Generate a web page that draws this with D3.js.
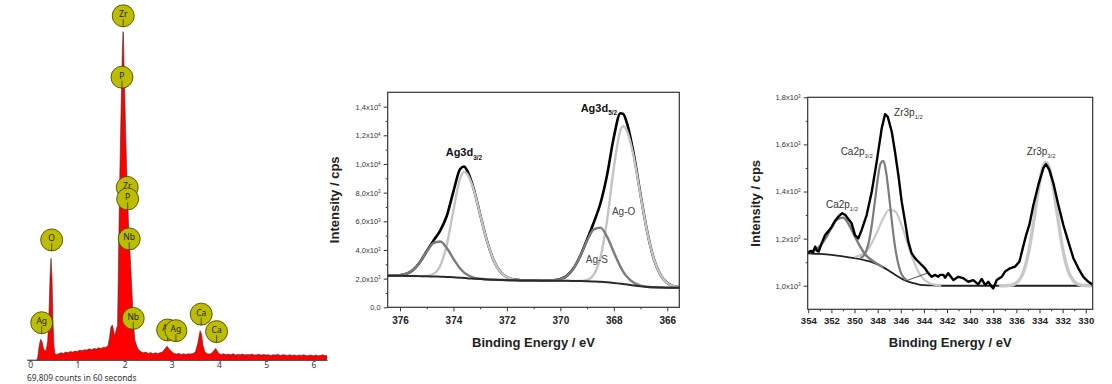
<!DOCTYPE html>
<html>
<head>
<meta charset="utf-8">
<script src="https://cdn.jsdelivr.net/npm/d3@7"></script>
<style>
  body { margin: 0; background: #fff; }
  svg { display: block; }
</style>
</head>
<body>
<svg id="chart" width="1112" height="384"></svg>
<script>
// ---------- EDS spectrum (left) ----------
const edsKeV = [-0.07, 0.14, 0.16, 0.19, 0.22, 0.25, 0.28, 0.31, 0.34, 0.37, 0.40, 0.42, 0.44, 0.46, 0.48, 0.50, 0.52, 0.55,
  0.60, 0.65, 0.70, 0.75, 0.80, 0.85, 0.90, 0.95, 1.00, 1.05, 1.10, 1.15, 1.20, 1.25, 1.30, 1.35, 1.40, 1.45, 1.50, 1.55, 1.60, 1.65,
  1.68, 1.71, 1.74, 1.76, 1.79, 1.81, 1.83, 1.85, 1.87, 1.89, 1.91, 1.93, 1.95, 1.965, 1.975, 1.99, 2.01, 2.02, 2.04, 2.06, 2.08,
  2.10, 2.13, 2.16, 2.19, 2.22, 2.26, 2.30, 2.35, 2.40, 2.45, 2.50, 2.55, 2.60, 2.65, 2.70, 2.75, 2.80, 2.85, 2.90, 2.95, 3.00,
  3.05, 3.10, 3.15, 3.20, 3.25, 3.30, 3.35, 3.40, 3.45, 3.50, 3.55, 3.60, 3.63, 3.66, 3.70, 3.75, 3.80, 3.85, 3.90, 3.93, 3.96,
  4.00, 4.05, 4.10, 4.15, 4.20, 4.25, 4.30, 4.35, 4.40, 4.45, 4.50, 4.55, 4.60, 4.65, 4.70, 4.75, 4.80, 4.85, 4.90, 4.95, 5.00,
  5.05, 5.10, 5.15, 5.20, 5.25, 5.30, 5.35, 5.40, 5.45, 5.50, 5.55, 5.60, 5.65, 5.70, 5.75, 5.80, 5.85, 5.90, 5.95, 6.00, 6.05,
  6.10, 6.15, 6.20, 6.25, 6.29];
const edsCounts = [0, 0, 10, 45, 63, 55, 35, 28, 32, 60, 160, 260, 308, 250, 120, 45, 20, 17,
  19, 22, 20, 24, 22, 26, 24, 27, 26, 30, 28, 31, 30, 34, 31, 35, 33, 37, 35, 39, 38, 44,
  70, 100, 106, 95, 72, 85, 96, 105, 300, 500, 650, 800, 930, 995, 990, 870, 760, 690, 590, 500, 420,
  360, 280, 190, 100, 60, 40, 30, 25, 22, 24, 20, 23, 19, 22, 20, 22, 24, 33, 42, 32, 25,
  20, 18, 20, 17, 19, 17, 19, 18, 20, 24, 50, 89, 78, 45, 25, 19, 18, 21, 30, 35, 28,
  19, 17, 19, 16, 18, 16, 19, 15, 17, 16, 18, 15, 17, 16, 18, 15, 16, 17, 15, 17, 15,
  16, 14, 16, 15, 17, 14, 16, 15, 14, 16, 14, 15, 13, 15, 14, 16, 13, 14, 15, 13, 15,
  13, 14, 16, 13, 14];
const edsTicks = [0, 1, 2, 3, 4, 5, 6];
const markerLabels = ['Zr', 'P', 'Zr', 'P', 'Nb', 'O', 'Ag', 'Nb', 'Ag', 'Ag', 'Ca', 'Ca'];
const markerKeV = [1.97, 1.943, 2.055, 2.064, 2.097, 0.453, 0.242, 2.182, 2.911, 3.087, 3.623, 3.949];
const markerCounts = [1043, 857, 523, 488, 367, 364, 113, 126, 91, 89, 139, 86];

// ---------- XPS Ag3d (middle) ----------
const agBE = [376.5, 376.25, 376, 375.75, 375.5, 375.25, 375, 374.75, 374.5, 374.25, 374, 373.75, 373.6, 373.5, 373.25, 373,
  372.75, 372.5, 372.25, 372, 371.75, 371.5, 371.25, 371, 370.75, 370.5, 370.25, 370, 369.75, 369.5, 369.25, 369,
  368.75, 368.5, 368.25, 368, 367.75, 367.65, 367.5, 367.25, 367, 366.75, 366.5, 366.25, 366, 365.75, 365.5];
const agBackground = [2200, 2200, 2195, 2190, 2185, 2175, 2165, 2150, 2135, 2115, 2090, 2060, 2045, 2030, 2000, 1970,
  1945, 1925, 1910, 1895, 1885, 1875, 1870, 1865, 1860, 1855, 1852, 1850, 1845, 1840, 1830, 1815,
  1800, 1780, 1745, 1700, 1650, 1630, 1590, 1520, 1460, 1420, 1395, 1380, 1372, 1368, 1365];
const agAgO = [2200, 2200, 2195, 2190, 2185, 2178, 2194, 2324, 2880, 4349, 6795, 9002, 9445, 9327, 8243, 6458,
  4658, 3303, 2500, 2106, 1949, 1891, 1873, 1865, 1860, 1855, 1852, 1850, 1845, 1842, 1845, 1914,
  2283, 3482, 6086, 9719, 12370, 12630, 12272, 10453, 7809, 5254, 3362, 2240, 1691, 1468, 1392];
const agAgS = [2201, 2209, 2237, 2343, 2625, 3159, 3878, 4474, 4591, 4136, 3385, 2707, 2423, 2281, 2076, 1988,
  1948, 1925, 1910, 1895, 1885, 1875, 1870, 1865, 1860, 1862, 1884, 1970, 2210, 2735, 3599, 4638,
  5435, 5558, 4914, 3845, 2823, 2497, 2107, 1705, 1513, 1432, 1397, 1380, 1372, 1368, 1365];
const agEnvelope = [2201, 2209, 2237, 2343, 2625, 3162, 3907, 4648, 5336, 6370, 8090, 9649, 9823, 9578, 8319, 6476,
  4661, 3303, 2500, 2106, 1949, 1891, 1873, 1865, 1860, 1862, 1884, 1970, 2210, 2737, 3614, 4737,
  5918, 7260, 9255, 11864, 13543, 13497, 12789, 10638, 7862, 5266, 3364, 2240, 1691, 1468, 1392];
const agXTicks = [376, 374, 372, 370, 368, 366];
const agXMinor = [375, 373, 371, 369, 367];
const agYTicks = [0, 2000, 4000, 6000, 8000, 10000, 12000, 14000];
const agYMinor = [1000, 3000, 5000, 7000, 9000, 11000, 13000];
const agYMant = ['0,0', '2,0x10', '4,0x10', '6,0x10', '8,0x10', '1,0x10', '1,2x10', '1,4x10'];
const agYExp = ['', '3', '3', '3', '3', '4', '4', '4'];
const agNoteText = ['Ag3d', 'Ag3d', 'Ag-O', 'Ag-S'];
const agNoteSub = ['3/2', '5/2', '', ''];
const agNoteBE = [374.29, 369.24, 368.07, 369.05];
const agNoteI = [10536, 13621, 6428, 3064];

// ---------- XPS Zr3p / Ca2p (right) ----------
const zrDataBE = [354.05, 353.8, 353.6, 353.4, 353.25, 353.1, 352.85, 352.55, 352.25, 351.97, 351.7, 351.4, 351.06, 350.8,
  350.54, 350.25, 349.96, 349.67, 349.38, 348.95, 348.51, 348.08, 347.65, 347.36, 347.13, 346.78, 346.5, 346.21, 345.92,
  345.63, 345.35, 345.06, 344.77, 344.48, 344.19, 343.9, 343.62, 343.32, 343.04, 342.75, 342.6, 342.32, 342.17, 341.9,
  341.45, 341.02, 340.59, 340.16, 339.73, 339.3, 339.0, 338.71, 338.43, 338.14, 338.0, 337.7, 337.27, 336.98, 336.55,
  336.12, 335.74, 335.45, 335.16, 334.88, 334.53, 334.1, 333.67, 333.44, 333.15, 332.8, 332.37, 331.94, 331.51, 331.07,
  330.64, 330.21, 329.78, 329.45];
const zrDataI = [1140, 1148, 1142, 1166, 1150, 1145, 1180, 1215, 1232, 1251, 1275, 1293, 1308, 1300,
  1283, 1265, 1215, 1201, 1237, 1300, 1399, 1527, 1668, 1728, 1718, 1654, 1569, 1470, 1357,
  1272, 1187, 1138, 1117, 1102, 1088, 1074, 1053, 1038, 1046, 1038, 1046, 1046, 1034, 1053,
  1024, 1038, 1032, 1017, 1024, 1006, 1029, 1003, 1017, 996, 989, 1024, 1038, 1060, 1074,
  1081, 1102, 1159, 1215, 1258, 1343, 1428, 1499, 1516, 1492, 1435, 1343, 1258, 1187, 1117,
  1074, 1038, 1017, 1006];
const zrBgBE = [354.05, 353, 352, 351, 350, 349, 348.5, 348, 347.5, 347, 346.5, 346, 345.5, 345, 344.5, 344, 343, 342, 329.4];
const zrBgI = [1138, 1135, 1131, 1125, 1117, 1107, 1100, 1090, 1078, 1063, 1047, 1032, 1020, 1012, 1006, 1003, 1001, 1000, 1000];
const ca12BE = [354, 353.5, 353, 352.5, 352, 351.5, 351, 350.5, 350, 349.5, 349, 348.5, 348, 347.5];
const ca12I = [1142, 1149, 1167, 1201, 1245, 1281, 1289, 1261, 1212, 1165, 1129, 1108, 1092, 1078];
const ca32BE = [349.5, 349.25, 349, 348.75, 348.5, 348.25, 348, 347.75, 347.5, 347.25, 347, 346.75, 346.5, 346.25, 346, 345.75, 345.5];
const ca32I = [1118, 1125, 1146, 1189, 1260, 1353, 1451, 1519, 1530, 1476, 1376, 1264, 1167, 1100, 1057, 1035, 1023];
const zr12BE = [350, 349.5, 349, 348.5, 348, 347.5, 347, 346.5, 346, 345.5, 345, 344.5, 344, 343.5, 343, 342.5];
const zr12I = [1122, 1129, 1146, 1182, 1233, 1288, 1322, 1316, 1267, 1193, 1119, 1061, 1027, 1011, 1004, 1000];
const zr32BE = [337.5, 337, 336.5, 336, 335.5, 335, 334.5, 334, 333.75, 333.5, 333.25, 333, 332.5, 332, 331.5, 331, 330.5, 330, 329.5];
const zr32I = [1000, 1000, 1002, 1012, 1045, 1129, 1274, 1438, 1497, 1524, 1514, 1469, 1315, 1158, 1060, 1017, 1004, 1001, 1000];
const zrThinBE = [345.6, 343.5];
const zrThinI = [1020, 1057];
const zrXTicks = [354, 352, 350, 348, 346, 344, 342, 340, 338, 336, 334, 332, 330];
const zrXMinor = [353, 351, 349, 347, 345, 343, 341, 339, 337, 335, 333, 331];
const zrYTicks = [1000, 1200, 1400, 1600, 1800];
const zrYMinor = [1100, 1300, 1500, 1700];
const zrYMant = ['1,0x10', '1,2x10', '1,4x10', '1,6x10', '1,8x10'];
const zrYExp = ['3', '3', '3', '3', '3'];
const zrNoteText = ['Zr3p', 'Ca2p', 'Ca2p', 'Zr3p'];
const zrNoteSub = ['1/2', '3/2', '1/2', '3/2'];
const zrNoteBE = [346.58, 351.2, 352.47, 335.1];
const zrNoteI = [1721, 1555, 1329, 1555];

const ARIAL = "'Liberation Sans', Arial, sans-serif";
const svg = d3.select('#chart');
svg.append('rect').attr('width', 1112).attr('height', 384).attr('fill', '#fff');

// ================= EDS =================
const xE = d3.scaleLinear().domain([-0.07, 6.29]).range([27, 327]);
const yE = d3.scaleLinear().domain([0, 1000]).range([360, 30]);
const eds = svg.append('g');
const edsPts = d3.zip(edsKeV, edsCounts);

eds.append('path')
  .datum(edsPts)
  .attr('d', d3.area().x(d => xE(d[0])).y0(yE(0)).y1(d => yE(d[1])))
  .attr('fill', '#f00');
eds.append('path')
  .datum(edsPts)
  .attr('d', d3.line().x(d => xE(d[0])).y(d => yE(d[1])))
  .attr('fill', 'none')
  .attr('stroke', '#333')
  .attr('stroke-width', 0.6);

const edsAxis = eds.append('g')
  .attr('transform', `translate(0,${yE(0)})`)
  .call(d3.axisBottom(xE).tickValues(edsTicks).tickFormat(d3.format('d'))
    .tickSize(0).tickSizeOuter(0).tickPadding(2));
edsAxis.select('.domain').attr('stroke', '#555');
edsAxis.selectAll('text').attr('font-family', "'Noto Sans', sans-serif").attr('font-size', 8.5).attr('fill', '#333');

eds.append('text')
  .attr('x', 27).attr('y', 381)
  .attr('font-family', "'Noto Sans', sans-serif").attr('font-size', 8.3).attr('fill', '#333')
  .text('69,809 counts in 60 seconds');

// element markers (later ones drawn over earlier ones, as in the original)
markerLabels.forEach((lab, i) => {
  const m = eds.append('g').attr('transform', `translate(${xE(markerKeV[i])},${yE(markerCounts[i])})`);
  m.append('circle').attr('r', 11).attr('fill', '#bcbc00').attr('stroke', '#3d3d00').attr('stroke-width', 0.8);
  m.append('line').attr('x1', 0).attr('x2', 0).attr('y1', 3.5).attr('y2', 11).attr('stroke', '#333').attr('stroke-width', 0.8);
  m.append('text').attr('y', 1.5).attr('text-anchor', 'middle')
    .attr('font-family', "'Noto Sans', sans-serif").attr('font-size', 8.5).attr('fill', '#222')
    .text(lab);
});

// ================= helpers for XPS frames =================
function drawFrame(g, x, y, o) {
  const [x0, x1] = x.range();
  const [y0, y1] = y.range();
  // minor ticks
  g.append('g').attr('transform', `translate(0,${y0})`)
    .call(d3.axisBottom(x).tickValues(o.xMinor).tickSize(2).tickSizeOuter(0).tickFormat(''))
    .call(a => a.select('.domain').remove());
  g.append('g').attr('transform', `translate(${x0},0)`)
    .call(d3.axisLeft(y).tickValues(o.yMinor).tickSize(2).tickSizeOuter(0).tickFormat(''))
    .call(a => a.select('.domain').remove());
  // major x
  const ax = g.append('g').attr('transform', `translate(0,${y0})`)
    .call(d3.axisBottom(x).tickValues(o.xTicks).tickFormat(d3.format('d'))
      .tickSize(4).tickSizeOuter(0).tickPadding(o.xPad));
  ax.select('.domain').remove();
  ax.selectAll('text').attr('font-family', ARIAL).attr('font-weight', 'bold').attr('font-size', o.xFont).attr('fill', '#222');
  // major y with superscripts
  const ay = g.append('g').attr('transform', `translate(${x0},0)`)
    .call(d3.axisLeft(y).tickValues(o.yTicks).tickSize(4).tickSizeOuter(0).tickPadding(3));
  ay.select('.domain').remove();
  ay.selectAll('.tick text').each(function (d) {
    const i = o.yTicks.indexOf(d);
    const t = d3.select(this).text(null)
      .attr('font-family', ARIAL).attr('font-size', o.yFont).attr('fill', '#333');
    t.append('tspan').text(o.yMant[i]);
    if (o.yExp[i]) t.append('tspan').attr('dy', '-0.5em').attr('font-size', o.yFont * 0.62).text(o.yExp[i]);
  });
  g.selectAll('.tick line').attr('stroke', '#333');
  // frame
  g.append('rect')
    .attr('x', x0).attr('y', y1).attr('width', x1 - x0).attr('height', y0 - y1)
    .attr('fill', 'none').attr('stroke', '#333').attr('stroke-width', 1.2);
  // titles
  g.append('text')
    .attr('transform', `translate(${o.yTitleX},${(y0 + y1) / 2}) rotate(-90)`)
    .attr('text-anchor', 'middle').attr('dy', '0.35em')
    .attr('font-family', ARIAL).attr('font-weight', 'bold').attr('font-size', 13).attr('fill', '#222')
    .text('Intensity / cps');
  g.append('text')
    .attr('x', (x0 + x1) / 2).attr('y', o.xTitleY)
    .attr('text-anchor', 'middle').attr('dy', '0.35em')
    .attr('font-family', ARIAL).attr('font-weight', 'bold').attr('font-size', 13).attr('fill', '#222')
    .text('Binding Energy / eV');
}

function note(g, x, y, main, sub, fs, weight, fill) {
  const t = g.append('text').attr('x', x).attr('y', y)
    .attr('font-family', ARIAL).attr('font-size', fs).attr('font-weight', weight).attr('fill', fill);
  t.append('tspan').text(main);
  if (sub) t.append('tspan').attr('dy', fs * 0.3).attr('font-size', fs * 0.58).text(sub);
}

function addClip(id, x, y) {
  const [x0, x1] = x.range();
  const [y0, y1] = y.range();
  svg.append('clipPath').attr('id', id)
    .append('rect').attr('x', x0).attr('y', y1).attr('width', x1 - x0).attr('height', y0 - y1);
}

// ================= Ag3d =================
const xA = d3.scaleLinear().domain([376.46, 365.55]).range([387.7, 679.3]);
const yA = d3.scaleLinear().domain([0, 15000]).range([307.3, 92.3]);
const ag = svg.append('g');
addClip('clipAg', xA, yA);
const agPlot = ag.append('g').attr('clip-path', 'url(#clipAg)');
const lineA = d3.line().x(d => xA(d[0])).y(d => yA(d[1])).curve(d3.curveMonotoneX);

agPlot.append('path').datum(d3.zip(agBE, agEnvelope)).attr('d', lineA)
  .attr('fill', 'none').attr('stroke', '#000').attr('stroke-width', 2.6);
agPlot.append('path').datum(d3.zip(agBE, agAgO)).attr('d', lineA)
  .attr('fill', 'none').attr('stroke', '#c4c4c4').attr('stroke-width', 2.4);
agPlot.append('path').datum(d3.zip(agBE, agAgS)).attr('d', lineA)
  .attr('fill', 'none').attr('stroke', '#7c7c7c').attr('stroke-width', 2.4);
agPlot.append('path').datum(d3.zip(agBE, agBackground)).attr('d', lineA)
  .attr('fill', 'none').attr('stroke', '#2a2a2a').attr('stroke-width', 2);

drawFrame(ag, xA, yA, {
  xTicks: agXTicks, xMinor: agXMinor, yTicks: agYTicks, yMinor: agYMinor,
  yMant: agYMant, yExp: agYExp, xFont: 10, yFont: 7.5, xPad: 6,
  yTitleX: 334, xTitleY: 342
});

agNoteText.forEach((t, i) => {
  const bold = agNoteSub[i] !== '';
  note(ag, xA(agNoteBE[i]), yA(agNoteI[i]), t, agNoteSub[i], bold ? 11 : 10, bold ? 'bold' : 'normal', bold ? '#111' : '#444');
});

// ================= Zr3p / Ca2p =================
const xZ = d3.scaleLinear().domain([354.05, 329.4]).range([807.7, 1092.7]);
const yZ = d3.scaleLinear().domain([900, 1800]).range([309.3, 97.3]);
const zr = svg.append('g');
addClip('clipZr', xZ, yZ);
const zrPlot = zr.append('g').attr('clip-path', 'url(#clipZr)');
const lineZ = d3.line().x(d => xZ(d[0])).y(d => yZ(d[1])).curve(d3.curveMonotoneX);

zrPlot.append('path').datum(d3.zip(zrBgBE, zrBgI)).attr('d', lineZ)
  .attr('fill', 'none').attr('stroke', '#222').attr('stroke-width', 1.8);
zrPlot.append('path').datum(d3.zip(zr12BE, zr12I)).attr('d', lineZ)
  .attr('fill', 'none').attr('stroke', '#c8c8c8').attr('stroke-width', 2.2);
zrPlot.append('path').datum(d3.zip(zr32BE, zr32I)).attr('d', lineZ)
  .attr('fill', 'none').attr('stroke', '#c8c8c8').attr('stroke-width', 3.4);
zrPlot.append('path').datum(d3.zip(ca32BE, ca32I)).attr('d', lineZ)
  .attr('fill', 'none').attr('stroke', '#7c7c7c').attr('stroke-width', 2.2);
zrPlot.append('path').datum(d3.zip(ca12BE, ca12I)).attr('d', lineZ)
  .attr('fill', 'none').attr('stroke', '#7c7c7c').attr('stroke-width', 2.4);
zrPlot.append('path').datum(d3.zip(zrDataBE, zrDataI))
  .attr('d', d3.line().x(d => xZ(d[0])).y(d => yZ(d[1])))
  .attr('fill', 'none').attr('stroke', '#000').attr('stroke-width', 2.4).attr('stroke-linejoin', 'round');
zrPlot.append('path').datum(d3.zip(zrThinBE, zrThinI))
  .attr('d', d3.line().x(d => xZ(d[0])).y(d => yZ(d[1])))
  .attr('fill', 'none').attr('stroke', '#222').attr('stroke-width', 0.8);

drawFrame(zr, xZ, yZ, {
  xTicks: zrXTicks, xMinor: zrXMinor, yTicks: zrYTicks, yMinor: zrYMinor,
  yMant: zrYMant, yExp: zrYExp, xFont: 9.5, yFont: 7.5, xPad: 4,
  yTitleX: 755, xTitleY: 342
});

zrNoteText.forEach((t, i) => {
  note(zr, xZ(zrNoteBE[i]), yZ(zrNoteI[i]), t, zrNoteSub[i], 10, 'normal', '#333');
});
</script>
</body>
</html>
